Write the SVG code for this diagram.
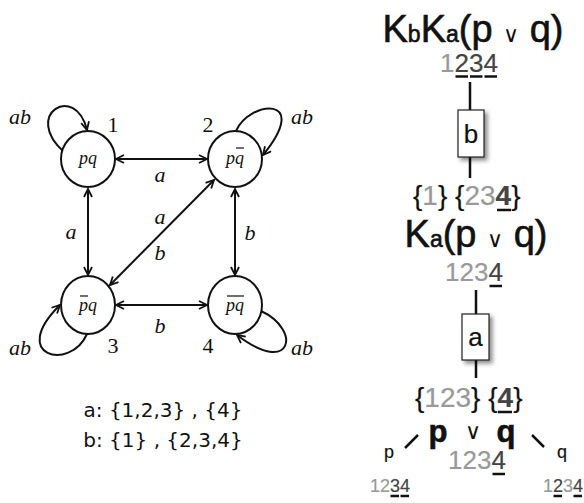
<svg xmlns="http://www.w3.org/2000/svg" width="584" height="503" viewBox="0 0 584 503">
<style>
.edge{fill:none;stroke:#111;stroke-width:2}
.st{fill:#fff;stroke:#111;stroke-width:2}
.ser{font-family:"Liberation Serif","Times New Roman",serif;fill:#111}
.it{font-style:italic}
.lbl{font-size:22px;font-style:italic}
.num{font-size:22px}
.ov{stroke:#111;stroke-width:1.2}
.sans{font-family:"Liberation Sans",Arial,sans-serif;fill:#111;stroke:#111;stroke-width:0.6}
.dg{stroke-width:0.2}
.leg{font-family:"DejaVu Sans",sans-serif;font-size:20px;fill:#111}
.lg{fill:#999;stroke:#999}
.dk{fill:#444;stroke:#444}
.thin{stroke-width:0}
.ul{stroke:#111;stroke-width:2.5}
.tl{stroke:#111;stroke-width:2.5}
.box{fill:#fff;stroke:#222;stroke-width:1.2}
</style>
<defs>
<marker id="ah" viewBox="0 0 10 10" refX="9" refY="5" markerWidth="10" markerHeight="10" markerUnits="userSpaceOnUse" orient="auto-start-reverse">
<path d="M1,1 L9,5 L1,9" fill="none" stroke="#111" stroke-width="1.8"/>
</marker>
<filter id="sh" x="-30%" y="-30%" width="180%" height="180%">
<feDropShadow dx="3" dy="3" stdDeviation="2" flood-color="#000" flood-opacity="0.45"/>
</filter>
</defs>

<g id="connectors">
<path class="edge" d="M116,159 L207,159" marker-start="url(#ah)" marker-end="url(#ah)"/>
<path class="edge" d="M88,189 L88,275" marker-start="url(#ah)" marker-end="url(#ah)"/>
<path class="edge" d="M235,189 L235,275" marker-start="url(#ah)" marker-end="url(#ah)"/>
<path class="edge" d="M116,305 L207,305" marker-start="url(#ah)" marker-end="url(#ah)"/>
<path class="edge" d="M214,180 L110,285" marker-start="url(#ah)" marker-end="url(#ah)"/>
<path class="edge" d="M64,152 C22,115 75,82 87,130" marker-end="url(#ah)"/>
<path class="edge" d="M236,131 C250,100 312,95 263,155" marker-end="url(#ah)"/>
<path class="edge" d="M87,334 C70,372 8,356 60,305" marker-end="url(#ah)"/>
<path class="edge" d="M261,311 C302,330 292,377 237,335" marker-end="url(#ah)"/>
<g class="ser lbl">
<text x="160" y="182" text-anchor="middle">a</text>
<text x="71" y="239" text-anchor="middle">a</text>
<text x="160" y="224" text-anchor="middle">a</text>
<text x="160" y="260" text-anchor="middle">b</text>
<text x="250" y="240" text-anchor="middle">b</text>
<text x="160" y="333" text-anchor="middle">b</text>
<text x="20" y="124" text-anchor="middle">ab</text>
<text x="302" y="124" text-anchor="middle">ab</text>
<text x="20" y="355" text-anchor="middle">ab</text>
<text x="302" y="355" text-anchor="middle">ab</text>
</g>
</g>

<g id="n1">
<ellipse class="st" cx="88" cy="159" rx="27" ry="28"/>
<text class="ser it" x="88" y="164" font-size="18" text-anchor="middle">pq</text>
<text class="ser num" x="113" y="132" text-anchor="middle">1</text>
</g>
<g id="n2">
<ellipse class="st" cx="235" cy="159" rx="27" ry="28"/>
<text class="ser it" x="235" y="164" font-size="18" text-anchor="middle">pq</text>
<line class="ov" x1="236" y1="148" x2="244" y2="148"/>
<text class="ser num" x="208" y="132" text-anchor="middle">2</text>
</g>
<g id="n3">
<ellipse class="st" cx="88" cy="305" rx="27" ry="29"/>
<text class="ser it" x="88" y="311" font-size="18" text-anchor="middle">pq</text>
<line class="ov" x1="80" y1="296" x2="88" y2="296"/>
<text class="ser num" x="113" y="353" text-anchor="middle">3</text>
</g>
<g id="n4">
<ellipse class="st" cx="235" cy="305" rx="27" ry="29"/>
<text class="ser it" x="235" y="311" font-size="18" text-anchor="middle">pq</text>
<line class="ov" x1="227" y1="296" x2="244" y2="296"/>
<text class="ser num" x="208" y="353" text-anchor="middle">4</text>
</g>

<g id="legend">
<text class="leg" x="163" y="417" text-anchor="middle">a: {1,2,3} , {4}</text>
<text class="leg" x="163" y="447" text-anchor="middle">b: {1} , {2,3,4}</text>
</g>

<g id="tree-lines">
<line class="tl" x1="470" y1="82" x2="470" y2="110"/>
<line class="tl" x1="470" y1="157" x2="470" y2="178"/>
<line class="tl" x1="476" y1="290" x2="476" y2="314"/>
<line class="tl" x1="476" y1="360" x2="476" y2="378"/>
<line class="tl" x1="405" y1="448" x2="418" y2="435"/>
<line class="tl" x1="532" y1="435" x2="544" y2="447"/>
</g>

<g id="t-root">
<text class="sans" x="473" y="42" font-size="38" text-anchor="middle">K<tspan font-size="23">b</tspan>K<tspan font-size="23">a</tspan>(p <tspan font-size="22" class="thin">∨</tspan> q)</text>
<text class="sans dg" y="72" font-size="26"><tspan class="lg" x="440">1</tspan><tspan class="dk" x="454.5">2</tspan><tspan class="dk" x="469">3</tspan><tspan class="dk" x="483.4">4</tspan></text>
<line class="ul" x1="455.5" y1="76.5" x2="468" y2="76.5"/>
<line class="ul" x1="470" y1="76.5" x2="482.5" y2="76.5"/>
<line class="ul" x1="484.5" y1="76.5" x2="497" y2="76.5"/>
</g>

<g id="box-b">
<rect class="box" x="458" y="110" width="26" height="47" filter="url(#sh)"/>
<text class="sans dg" x="471" y="143" font-size="26" text-anchor="middle">b</text>
</g>

<g id="t-ka">
<text class="sans dg" y="205" font-size="28"><tspan x="413">{</tspan><tspan class="lg">1</tspan>} {<tspan class="lg">23</tspan><tspan class="dk" font-weight="bold">4</tspan>}</text>
<line class="ul" x1="497" y1="210" x2="511" y2="210"/>
<text class="sans" x="476" y="247" font-size="38" text-anchor="middle">K<tspan font-size="23">a</tspan>(p <tspan font-size="22" class="thin">∨</tspan> q)</text>
<text class="sans dg" y="281" font-size="26"><tspan class="lg" x="445">123</tspan><tspan class="dk">4</tspan></text>
<line class="ul" x1="489.5" y1="286" x2="502" y2="286"/>
</g>

<g id="box-a">
<rect class="box" x="462" y="314" width="27" height="46" filter="url(#sh)"/>
<text class="sans dg" x="475.5" y="346" font-size="26" text-anchor="middle">a</text>
</g>

<g id="t-pq">
<text class="sans dg" y="407" font-size="28"><tspan x="415">{</tspan><tspan class="lg">123</tspan>} {<tspan class="dk" font-weight="bold">4</tspan>}</text>
<line class="ul" x1="498" y1="412" x2="512" y2="412"/>
<text class="sans" x="438" y="442" font-size="31" font-weight="bold" text-anchor="middle">p</text>
<text class="sans thin" x="473" y="439" font-size="22" text-anchor="middle">∨</text>
<text class="sans" x="506" y="442" font-size="31" font-weight="bold" text-anchor="middle">q</text>
<text class="sans dg" y="469" font-size="26"><tspan class="lg" x="448">123</tspan><tspan class="dk">4</tspan></text>
<line class="ul" x1="492.5" y1="474" x2="505" y2="474"/>
</g>

<g id="t-p">
<text class="sans dg" x="389" y="458" font-size="18" text-anchor="middle">p</text>
<text class="sans dg" y="492" font-size="18"><tspan class="lg" x="370">12</tspan><tspan class="dk">34</tspan></text>
<line class="ul" x1="390.5" y1="496" x2="399" y2="496"/>
<line class="ul" x1="400.5" y1="496" x2="409" y2="496"/>
</g>

<g id="t-q">
<text class="sans dg" x="562" y="458" font-size="18" text-anchor="middle">q</text>
<text class="sans dg" y="492" font-size="18"><tspan class="lg" x="543">1</tspan><tspan class="dk">2</tspan><tspan class="lg">3</tspan><tspan class="dk">4</tspan></text>
<line class="ul" x1="553.5" y1="496" x2="562" y2="496"/>
<line class="ul" x1="573.5" y1="496" x2="582" y2="496"/>
</g>
</svg>
